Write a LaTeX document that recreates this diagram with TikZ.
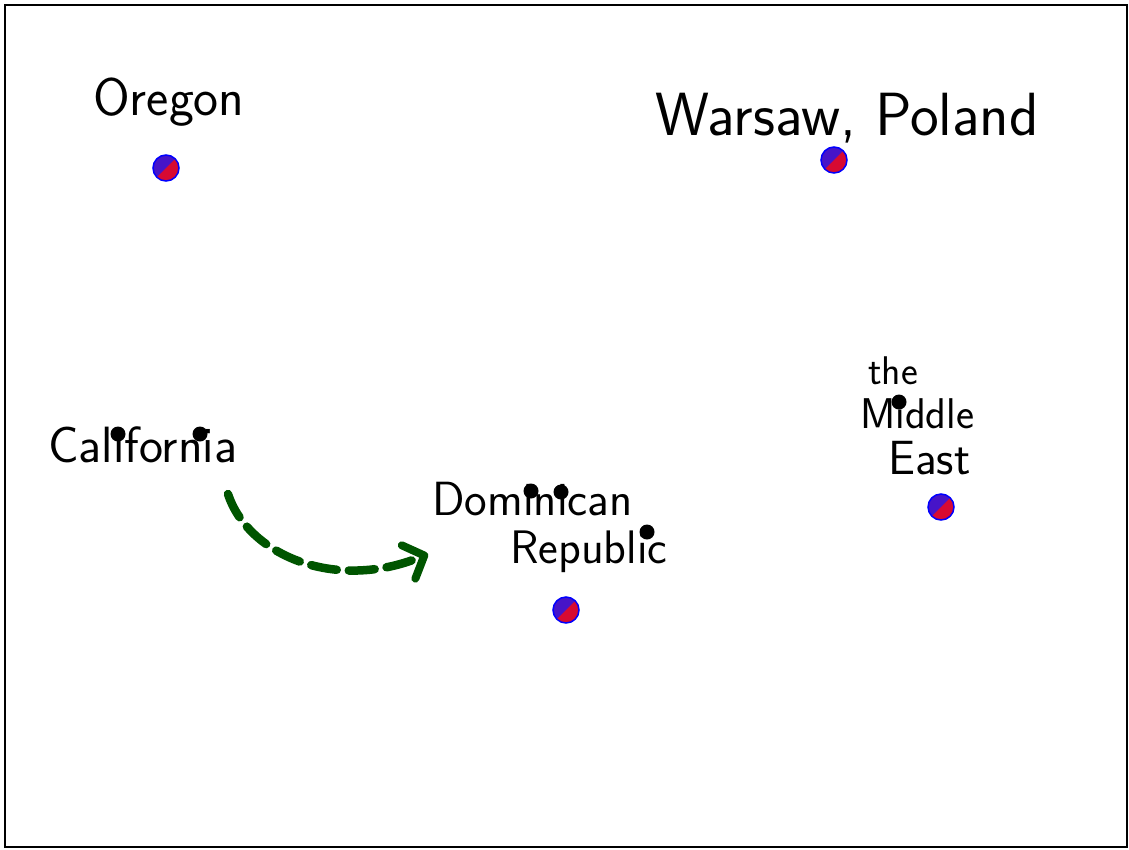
\documentclass[tikz,border=0pt]{standalone}
\usetikzlibrary{arrows.meta}
\definecolor{markblue}{RGB}{70,20,200}
\definecolor{markred}{RGB}{215,10,50}
\definecolor{arrowgreen}{RGB}{0,85,0}
\tikzset{
  place/.style={circle, minimum size=26pt, inner sep=0pt, draw=blue, line width=1.5pt,
    path picture={
      \fill[markblue] (path picture bounding box.south west) rectangle (path picture bounding box.north east);
      \fill[markred] (path picture bounding box.north east) -- (path picture bounding box.south east) -- (path picture bounding box.south west) -- cycle;
    }},
  blackdot/.style={circle, fill=black, minimum size=15pt, inner sep=0pt},
  label/.style={anchor=base west, inner sep=0pt, font=\sffamily},
  moveto/.style={draw=arrowgreen, line width=8.5pt, dash pattern=on 26pt off 12pt, line cap=round,
    -{Straight Barb[length=17pt,width=36pt,line width=8pt, round]}}
}
\begin{document}
\begin{tikzpicture}[x=1pt,y=-1pt]
\useasboundingbox (0,0) rectangle (1129,849);
\draw[line width=2.5pt] (5,5) rectangle (1127,847);
% labels
\node[label, font=\sffamily\fontsize{53}{53}\selectfont] (oregon) at (93,115) {Oregon};
\node[label, font=\sffamily\fontsize{61}{61}\selectfont] (warsaw) at (655,135) {Warsaw, Poland};
\node[label, font=\sffamily\fontsize{51}{51}\selectfont] (california) at (48,462) {California};
\node[label, font=\sffamily\fontsize{48}{48}\selectfont] (dominican) at (432,515) {Dominican};
\node[label, font=\sffamily\fontsize{47}{47}\selectfont] (republic) at (510,563) {Republic};
\node[label, font=\sffamily\fontsize{40}{40}\selectfont] (the) at (868,384) {the};
\node[label, font=\sffamily\fontsize{43}{43}\selectfont] (middle) at (860,428) {Middle};
\node[label, font=\sffamily\fontsize{48}{48}\selectfont] (east) at (888,474) {East};
% markers
\node[place] (p1) at (166,168) {};
\node[place] (p2) at (834,160) {};
\node[place] (p3) at (941,507) {};
\node[place] (p4) at (566,610) {};
% dots
\node[blackdot] (d1) at (118,434) {};
\node[blackdot] (d2) at (200,434) {};
\node[blackdot] (d3) at (531,491) {};
\node[blackdot] (d4) at (561,492) {};
\node[blackdot] (d5) at (647,532) {};
\node[blackdot] (d6) at (899,402) {};
% arrow
\coordinate (astart) at (228,494);
\coordinate (aend) at (428,554);
\draw[moveto] (astart) .. controls (248,555) and (335,592) .. (aend);
\end{tikzpicture}
\end{document}
